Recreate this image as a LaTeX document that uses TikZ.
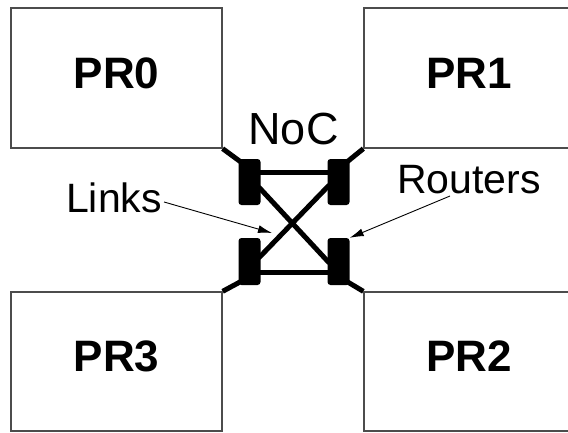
\documentclass[tikz,border=0pt]{standalone}
\usepackage{fontspec}
\setmainfont{Liberation Sans}
\usetikzlibrary{arrows.meta,backgrounds}
\begin{document}
\begin{tikzpicture}[x=1pt,y=-1pt,
    prbox/.style={draw=black!70,line width=1.3pt,minimum width=211pt,
      minimum height=140pt,inner sep=0pt,text depth=10pt,
      font=\fontsize{44}{50}\selectfont\bfseries},
    router/.style={fill=black,rounded corners=3pt,minimum width=22pt,
      minimum height=46pt,inner sep=0pt},
    link/.style={line width=5pt},
    note/.style={font=\fontsize{41}{48}\selectfont,inner sep=0pt},
    pointer/.style={line width=0.9pt,-{Latex[length=14pt,width=8pt]}}]
  \useasboundingbox (0,0) rectangle (568,432);
  % processing regions
  \node[prbox] (pr0) at (116.5,78) {PR0};
  \node[prbox,minimum width=210pt] (pr1) at (469,78) {PR1};
  \node[prbox,minimum height=139pt] (pr3) at (116.5,361.5) {PR3};
  \node[prbox,minimum width=210pt,minimum height=139pt] (pr2) at (469,361.5) {PR2};
  % routers
  \node[router] (r0) at (249.5,182) {};
  \node[router] (r1) at (338.5,182) {};
  \node[router,minimum height=47pt] (r3) at (249.5,261.5) {};
  \node[router,minimum height=47pt] (r2) at (338.5,261.5) {};
  % links and router ports, under the routers
  \begin{scope}[on background layer]
    \draw[link] ([yshift=10pt]r0.center) -- ([yshift=10pt]r1.center);
    \draw[link] ([yshift=-10.5pt]r3.center) -- ([yshift=-10.5pt]r2.center);
    \draw[link] ([xshift=-2pt,yshift=-5pt]r0.east) -- ([xshift=2pt,yshift=-1.5pt]r2.west);
    \draw[link] ([xshift=2pt,yshift=-3pt]r1.west) -- ([xshift=-2pt,yshift=3.5pt]r3.east);
    \draw[link] (pr0.south east) -- ([xshift=5pt,yshift=-5pt]r0.north west);
    \draw[link] (pr1.south west) -- ([xshift=-5pt,yshift=-5pt]r1.north east);
    \draw[link] (pr3.north east) -- ([xshift=5pt,yshift=5pt]r3.south west);
    \draw[link] (pr2.north west) -- ([xshift=-5pt,yshift=5pt]r2.south east);
  \end{scope}
  % labels
  \node[font=\fontsize{45}{50}\selectfont,inner sep=0pt] (noc) at (293.5,129) {NoC};
  \node[note] (links) at (114,197.5) {Links};
  \node[note] (routers) at (469,179.5) {Routers};
  \coordinate (hit) at (272,233);
  \draw[pointer] ([xshift=2pt,yshift=-4.5pt]links.east) -- (hit);
  \draw[pointer] ([xshift=-19pt,yshift=-2pt]routers.south) -- (r2.north east);
\end{tikzpicture}
\end{document}
